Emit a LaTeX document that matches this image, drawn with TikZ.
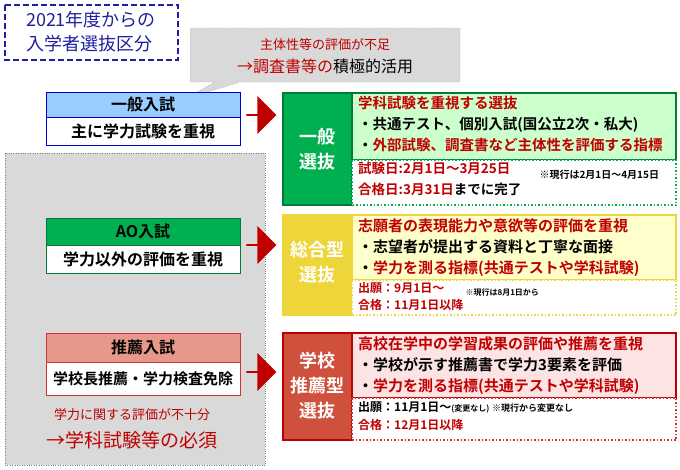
\documentclass[tikz,border=0pt]{standalone}
\usepackage{fontspec}
\setmainfont{Noto Sans CJK JP}
\newfontfamily\jpb{Noto Sans CJK JP Bold}
\usetikzlibrary{shapes.arrows}
\definecolor{gbg}{HTML}{D9D9D9}
\definecolor{lblue}{HTML}{99CCFF}
\definecolor{dblue}{HTML}{1F1F9F}
\definecolor{gr}{HTML}{00B050}
\definecolor{lgr}{HTML}{CCFFCC}
\definecolor{ye}{HTML}{EDD53A}
\definecolor{lye}{HTML}{FFFFCC}
\definecolor{rd}{HTML}{D0503E}
\definecolor{lrd}{HTML}{FCE4E4}
\definecolor{sal}{HTML}{E6998A}
\definecolor{txr}{HTML}{C00000}
\tikzset{
 lab/.style={font=\jpb\fontsize{16}{19}\selectfont,anchor=center},
 body/.style={font=\jpb\fontsize{15}{21}\selectfont,anchor=north west,align=left,inner sep=0pt},
 small/.style={font=\jpb\fontsize{13.5}{21}\selectfont,anchor=north west,align=left,inner sep=0pt},
 side/.style={font=\jpb\fontsize{18}{25}\selectfont,text=white,align=center},
 barrow/.style={single arrow,fill=txr,minimum width=38pt,single arrow head extend=4pt,minimum height=30pt,inner sep=0pt,single arrow tip angle=90},
}
\begin{document}
\begin{tikzpicture}[x=1pt,y=-1pt]
\useasboundingbox (0,0) rectangle (680,469);
% title
\draw[dblue,line width=2.5pt,dash pattern=on 6pt off 3pt] (5,5) rectangle (178,60);
\node[text=dblue,font=\fontsize{18}{24}\selectfont,align=left] (title) at (91,32) {2021年度からの\\入学者選抜区分};
% left panel
\draw[gray,dotted,fill=gbg] (5,153) rectangle (265,465);
% callout
\draw[gray,densely dotted,fill=gbg] (190,28) -- (460,28) -- (460,82) -- (240,82) -- (185,99) -- (215,82) -- (190,82) -- cycle;
\node[text=txr,font=\fontsize{13}{16}\selectfont] (c1) at (325,45) {主体性等の評価が不足};
\node[font=\fontsize{16}{18}\selectfont] (c2) at (325,66) {\textcolor{txr}{→調査書等の}積極的活用};
% left boxes
\draw[blue!80!black,thick,fill=lblue] (46,92) rectangle (240,117);
\draw[blue!80!black,thick,fill=white] (46,117) rectangle (240,145);
\node[lab] (g1) at (143,104.5) {一般入試};
\node[lab] (g2) at (143,131) {主に学力試験を重視};
\draw[gr!70!black,thick,fill=gr] (46,218) rectangle (240,245);
\draw[gr!70!black,thick,fill=white] (46,245) rectangle (240,273);
\node[lab] (a1) at (143,231.5) {AO入試};
\node[lab] (a2) at (143,259) {学力以外の評価を重視};
\draw[txr!80,thick,fill=sal] (46,333) rectangle (240,362);
\draw[txr!80,thick,fill=white] (46,362) rectangle (240,395);
\node[lab] (s1) at (143,347.5) {推薦入試};
\node[lab,font=\jpb\fontsize{15}{18}\selectfont] (s2) at (143,378.5) {学校長推薦・学力検査免除};
\node[text=txr,font=\fontsize{13}{16}\selectfont] (r1) at (132,415) {学力に関する評価が不十分};
\node[text=txr,font=\fontsize{19}{22}\selectfont] (r2) at (132,440) {→学科試験等の必須};
% arrows
\node[barrow] (ar1) at (261,115) {};
\node[barrow] (ar2) at (261,245) {};
\node[barrow] (ar3) at (261,372) {};
% green
\draw[gr!70!black,line width=1.5pt,fill=gr] (283,93) rectangle (352,205);
\draw[gr!70!black,line width=1.5pt,fill=lgr] (352,93) rectangle (676,160);
\draw[gr,line width=1.5pt,dotted,fill=white] (352,160) rectangle (676,205);
\node[side] (gs) at (317.5,149) {一般\\選抜};
\node[body,font=\jpb\fontsize{14.5}{21}\selectfont] (gb) at (358,96) {\textcolor{txr}{学科試験を重視する選抜}\\・共通テスト、個別入試(国公立2次・私大)\\・\textcolor{txr}{外部試験、調査書など主体性を評価する指標}};
\node[small] (gd) at (358,162) {\textcolor{txr}{試験日:2月1日～3月25日}\\\textcolor{txr}{合格日:3月31日}までに完了};
\node[font=\jpb\fontsize{10}{12}\selectfont,anchor=west] (gn) at (536,175) {※現行は2月1日～4月15日};
% yellow
\draw[ye,line width=1.5pt,fill=ye] (283,215) rectangle (352,315);
\draw[ye,line width=1.5pt,fill=lye] (352,215) rectangle (676,280);
\draw[ye,line width=1.5pt,dotted,fill=white] (352,280) rectangle (676,315);
\node[side] (ys) at (317.5,262) {総合型\\選抜};
\node[body] (yb) at (358,218) {\textcolor{txr}{志願者の表現能力や意欲等の評価を重視}\\・志望者が提出する資料と丁寧な面接\\・\textcolor{txr}{学力を測る指標(共通テストや学科試験)}};
\node[small,font=\jpb\fontsize{12}{17}\selectfont,text=txr] (yd) at (358,282) {出願：9月1日～\\合格：11月1日以降};
\node[font=\jpb\fontsize{8}{10}\selectfont,anchor=west] (yn) at (462,292) {※現行は8月1日から};
% red
\draw[txr,line width=1.5pt,fill=rd] (283,333) rectangle (352,440);
\draw[txr,line width=1.5pt,fill=lrd] (352,333) rectangle (676,398);
\draw[txr!80,line width=1.5pt,dotted,fill=white] (352,398) rectangle (676,440);
\node[side] (ss) at (317.5,386) {学校\\推薦型\\選抜};
\node[body] (sb) at (358,336) {\textcolor{txr}{高校在学中の学習成果の評価や推薦を重視}\\・学校が示す推薦書で学力3要素を評価\\・\textcolor{txr}{学力を測る指標(共通テストや学科試験)}};
\node[small,font=\jpb\fontsize{12}{18}\selectfont] (sd) at (358,401) {出願：11月1日～{\fontsize{8}{10}\selectfont(変更なし)} {\fontsize{9}{10}\selectfont ※現行から変更なし}\\\textcolor{txr}{合格：12月1日以降}};
\end{tikzpicture}
\end{document}
